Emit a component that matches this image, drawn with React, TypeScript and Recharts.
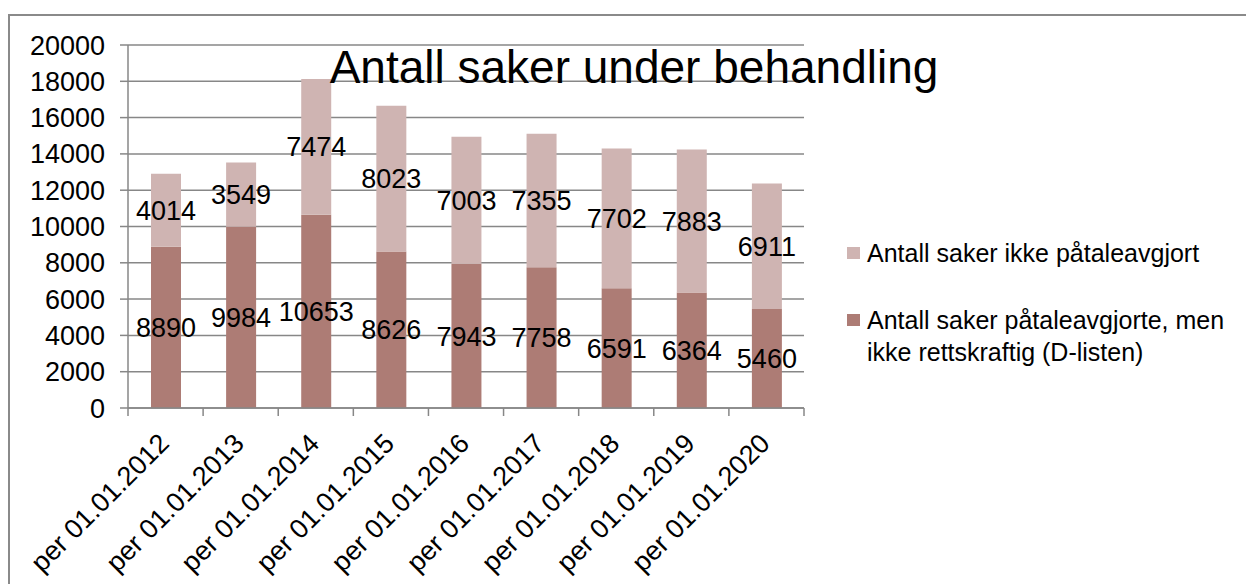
import React from 'react';
import { BarChart, Bar, XAxis, YAxis, CartesianGrid, LabelList, Legend } from 'recharts';

const categories = [
  'per 01.01.2012',
  'per 01.01.2013',
  'per 01.01.2014',
  'per 01.01.2015',
  'per 01.01.2016',
  'per 01.01.2017',
  'per 01.01.2018',
  'per 01.01.2019',
  'per 01.01.2020',
];
const avgjorte = [8890, 9984, 10653, 8626, 7943, 7758, 6591, 6364, 5460];
const ikkeAvgjort = [4014, 3549, 7474, 8023, 7003, 7355, 7702, 7883, 6911];
const yTicks = [0, 2000, 4000, 6000, 8000, 10000, 12000, 14000, 16000, 18000, 20000];
const seriesNames = [
  'Antall saker påtaleavgjorte, men ikke rettskraftig (D-listen)',
  'Antall saker ikke påtaleavgjort',
];
const title = 'Antall saker under behandling';

const DARK = '#ad7c75';
const LIGHT = '#cfb4b2';
const GRID = '#878787';
const FONT = '"Liberation Sans", Arial, sans-serif';

const data = categories.map((c, i) => ({ name: c, a: avgjorte[i], b: ikkeAvgjort[i] }));

const XTick = (props: any) => {
  const { x, y, payload, index, visibleTicksCount } = props;
  const half = (payload && payload.offset) || 0;
  const tx = x + 5;
  const ty = y + 37;
  const isLast = index === visibleTicksCount - 1;
  return (
    <g>
      <line x1={x - half} x2={x - half} y1={y} y2={y + 8} stroke={GRID} strokeWidth={1.5} />
      {isLast && <line x1={x + half} x2={x + half} y1={y} y2={y + 8} stroke={GRID} strokeWidth={1.5} />}
      <text
        x={tx}
        y={ty}
        transform={`rotate(-45 ${tx} ${ty})`}
        textAnchor="end"
        fontSize={27}
        fill="#000"
        fontFamily={FONT}
      >
        {payload.value}
      </text>
    </g>
  );
};

const LegendContent = (props: any) => {
  const items = props.payload || [];
  const ordered = [
    ...items.filter((p: any) => p.dataKey === 'b'),
    ...items.filter((p: any) => p.dataKey !== 'b'),
  ];
  return (
    <div style={{ position: 'relative', width: 400, height: 140, fontFamily: FONT, fontSize: 25, color: '#000' }}>
      {ordered.map((p: any, i: number) => (
        <div
          key={i}
          style={{
            position: 'absolute',
            left: 0,
            top: i === 0 ? 0 : 67,
            display: 'flex',
            alignItems: 'flex-start',
          }}
        >
          <div style={{ width: 13, height: 12, background: p.color, marginTop: 9, marginRight: 7 }} />
          <div style={{ width: 375, lineHeight: '31.5px' }}>{p.value}</div>
        </div>
      ))}
    </div>
  );
};

export default function App() {
  return (
    <div style={{ position: 'absolute', left: 0, top: 0, width: 1246, height: 584, overflow: 'hidden', background: '#fff', fontFamily: FONT }}>
      <div
        style={{
          position: 'absolute',
          left: 8,
          top: 14,
          width: 1260,
          height: 620,
          border: '2px solid #8a8a8a',
          boxSizing: 'border-box',
        }}
      />
      <div style={{ position: 'absolute', left: 0, top: 0 }}>
        <BarChart width={1246} height={584} data={data} margin={{ top: 45, right: 442, bottom: 0, left: 28 }}>
          <CartesianGrid horizontal vertical={false} stroke={GRID} strokeWidth={1.5} />
          <XAxis
            dataKey="name"
            height={176}
            interval={0}
            axisLine={{ stroke: GRID, strokeWidth: 1.5 }}
            tickLine={false}
            tickSize={0}
            tickMargin={0}
            tick={<XTick />}
          />
          <YAxis
            domain={[0, 20000]}
            ticks={yTicks}
            width={100}
            tickSize={8}
            tickMargin={15}
            axisLine={{ stroke: GRID, strokeWidth: 1.5 }}
            tickLine={{ stroke: GRID, strokeWidth: 1.5 }}
            tick={{ fontSize: 27, fill: '#000', fontFamily: FONT }}
          />
          <Legend
            layout="horizontal"
            align="center"
            verticalAlign="middle"
            content={<LegendContent />}
            wrapperStyle={{ position: 'absolute', left: 847, top: 238, width: 400, height: 140 }}
          />
          <Bar dataKey="a" name={seriesNames[0]} stackId="s" fill={DARK} barSize={30} isAnimationActive={false}>
            <LabelList dataKey="a" position="center" fill="#000" fontSize={27} fontFamily={FONT} />
          </Bar>
          <Bar dataKey="b" name={seriesNames[1]} stackId="s" fill={LIGHT} barSize={30} isAnimationActive={false}>
            <LabelList dataKey="b" position="center" fill="#000" fontSize={27} fontFamily={FONT} />
          </Bar>
        </BarChart>
      </div>
      <div
        style={{
          position: 'absolute',
          left: 0,
          top: 44,
          width: 1268,
          textAlign: 'center',
          fontSize: 46,
          lineHeight: '46px',
          color: '#000',
          whiteSpace: 'nowrap',
          fontFamily: FONT,
        }}
      >
        {title}
      </div>
    </div>
  );
}
